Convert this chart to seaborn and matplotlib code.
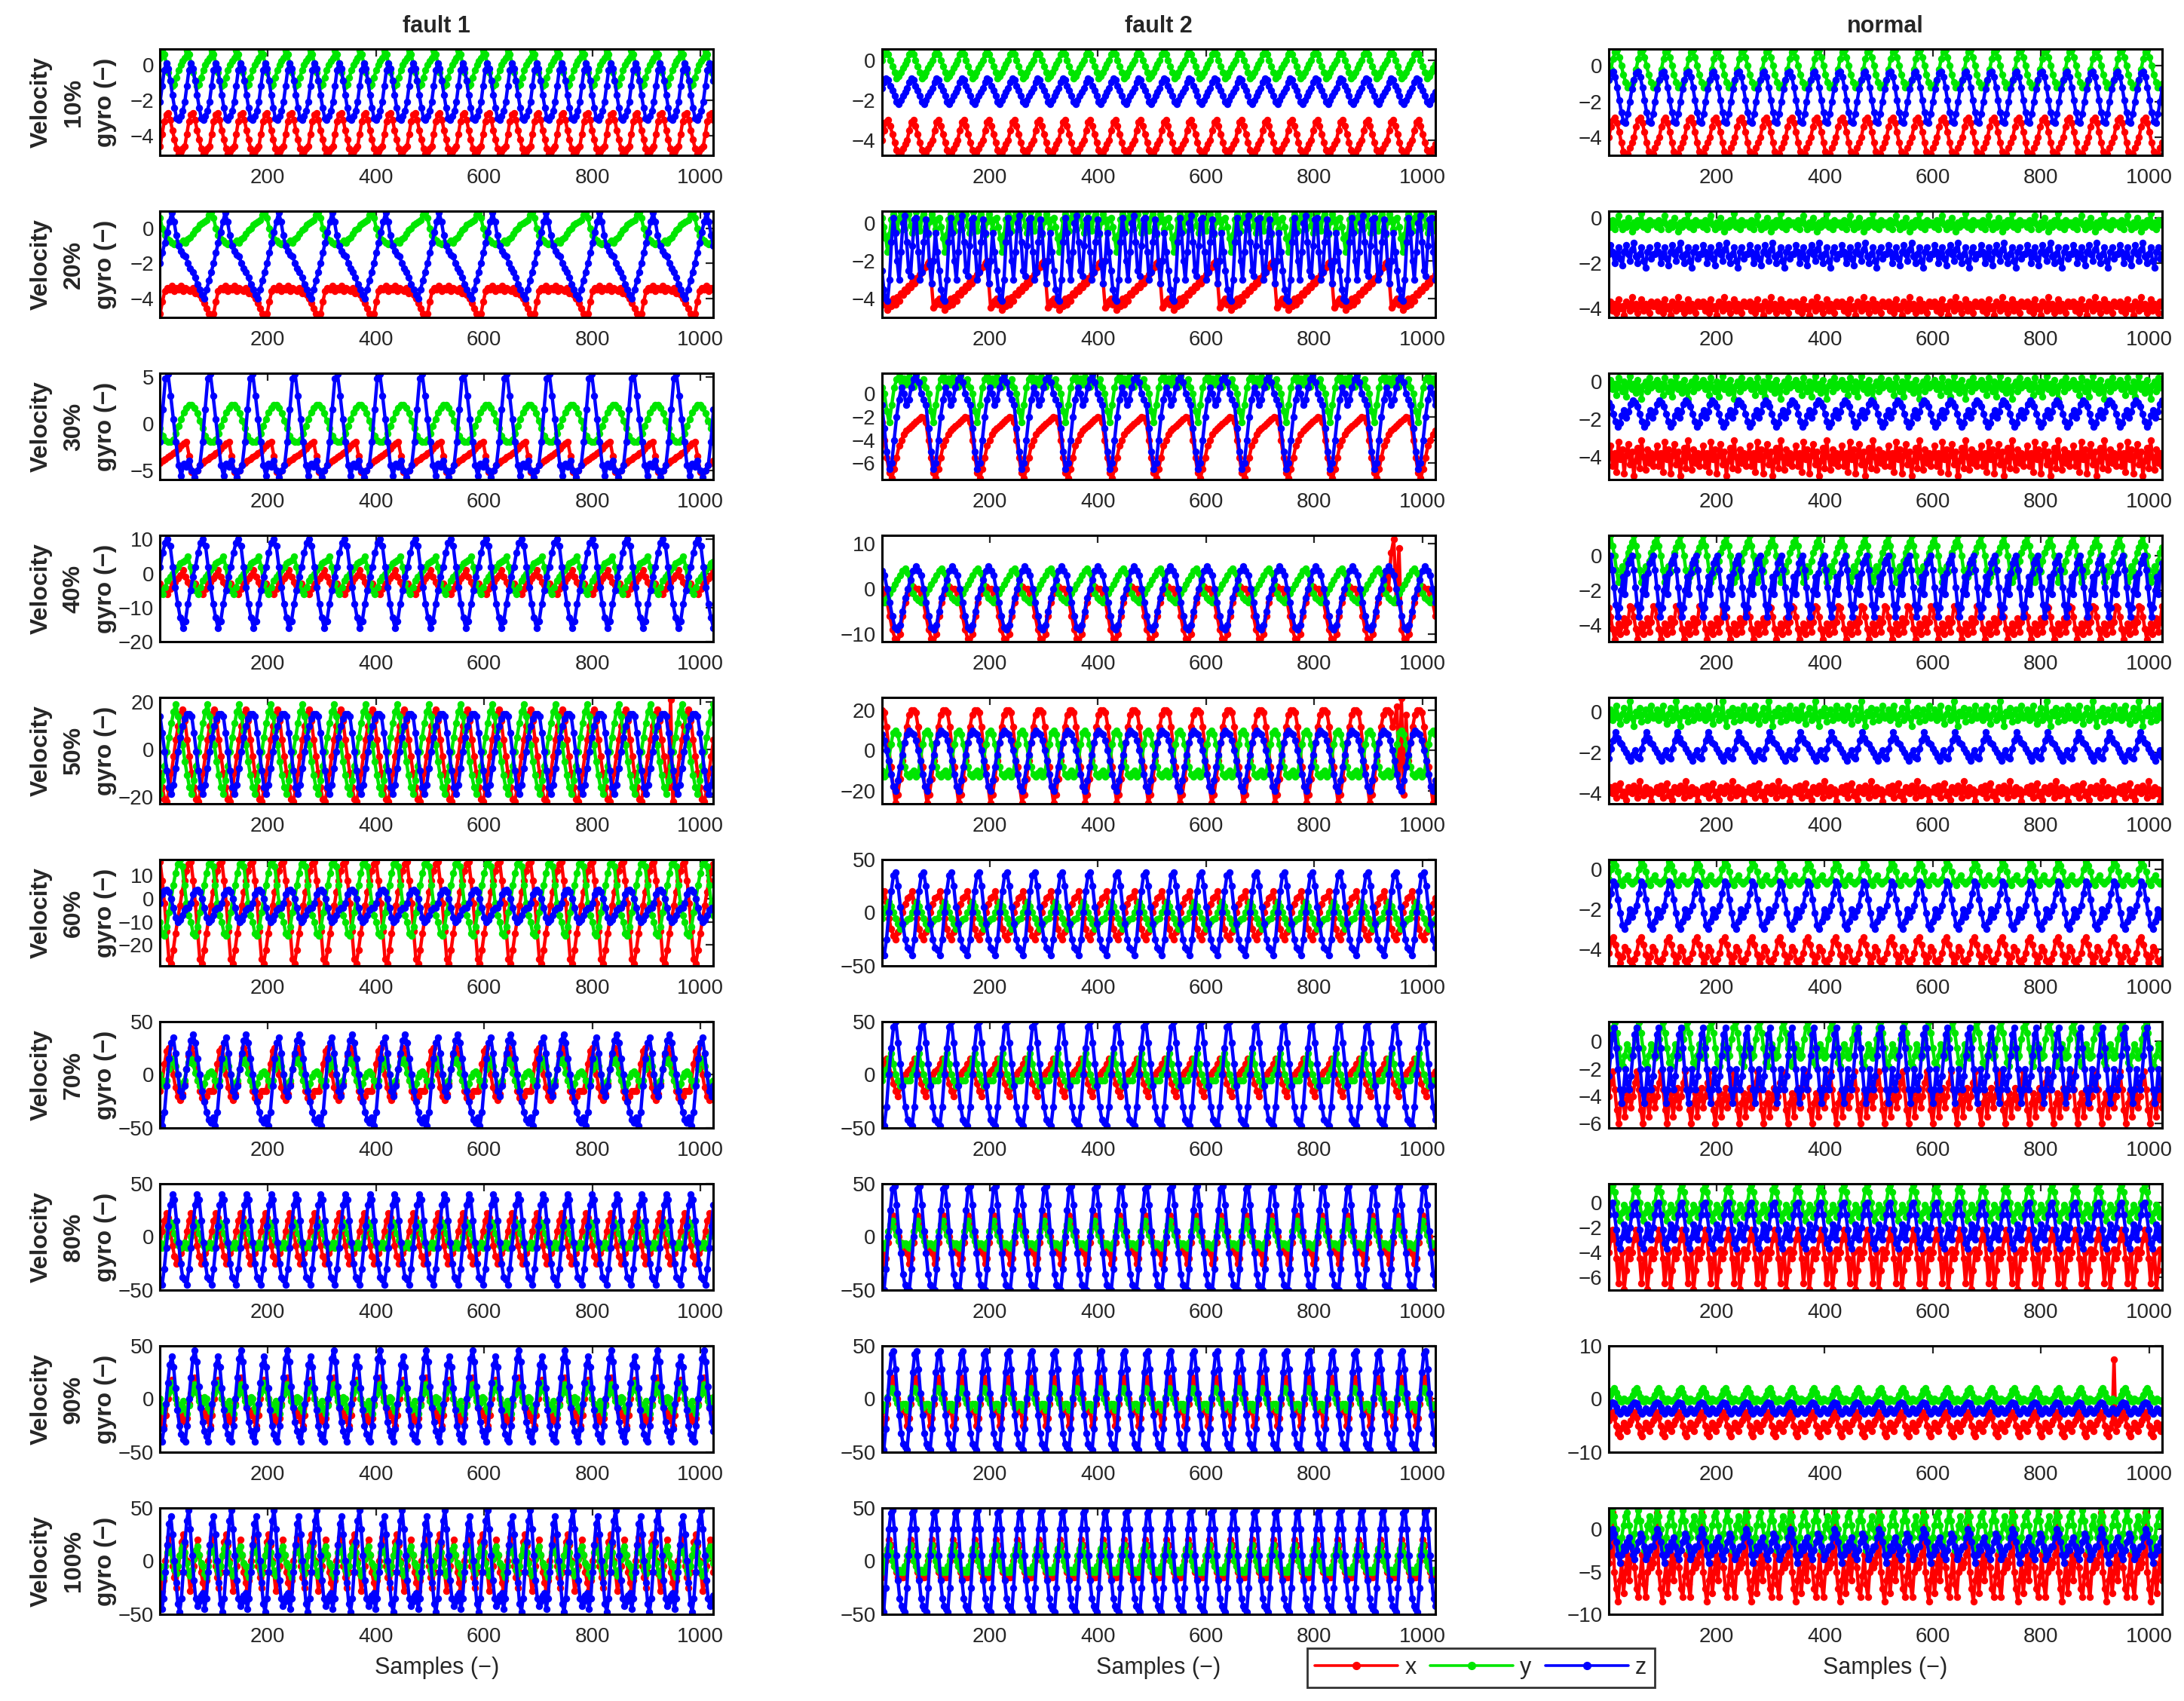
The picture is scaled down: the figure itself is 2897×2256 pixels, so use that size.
import numpy as np
import pandas as pd
import matplotlib
matplotlib.use("Agg")
import matplotlib.pyplot as plt
import seaborn as sns
from matplotlib.lines import Line2D

# ---------------------------------------------------------------
# Data: one (or two) cycle(s) of each signal,
# read by eye, and how many times that read cycle repeats over 1..1024.
# ---------------------------------------------------------------
COLUMN_TITLES = ["fault 1", "fault 2", "normal"]
VELOCITIES = ["10%", "20%", "30%", "40%", "50%", "60%", "70%", "80%", "90%", "100%"]
AXIS_NAMES = ["x", "y", "z"]
X_TICKS = [200, 400, 600, 800, 1000]

# ---- fault 1 ----
F1_10_X = [-4.6, -3.9, -3.2, -2.8, -2.7, -3.1, -3.7, -4.2, -4.7, -5.0, -4.9, -4.7]
F1_10_Y = [0.4, 0.8, 0.6, 0.1, -0.4, -0.9, -1.2, -1.1, -0.7, -0.3, 0.0, 0.2]
F1_10_Z = [-2.1, -1.2, -0.3, 0.1, -0.2, -0.9, -1.7, -2.4, -3.0, -3.1, -2.9, -2.6]
F1_20_X = [-4.9, -4.2, -3.6, -3.4, -3.5, -3.3, -3.6, -3.4, -3.5, -3.3, -3.6, -3.4,
           -3.5, -3.6, -3.4, -3.7, -3.5, -3.8, -4.0, -4.3, -4.6, -4.9, -5.0]
F1_20_Y = [0.6, 0.0, -0.4, -0.6, -0.7, -0.8, -0.9, -0.8, -0.9, -0.8, -0.7, -0.8,
           -0.6, -0.5, -0.3, -0.1, 0.0, 0.2, 0.3, 0.4, 0.5, 0.8, 0.9]
F1_20_Z = [-2.0, -1.4, -0.8, -0.2, 0.4, 0.9, 0.4, -0.4, -1.0, -1.3, -1.5, -1.6,
           -2.0, -2.3, -2.5, -2.8, -3.2, -3.5, -3.8, -4.0, -3.5, -3.0, -2.5]
F1_30_X = [-4.2, -4.0, -3.8, -3.6, -3.4, -3.2, -3.0, -2.7, -2.4, -2.1, -2.0, -3.5, -5.2, -6.0, -5.0, -4.5]
F1_30_Y = [-0.5, -1.3, -1.8, -2.0, -2.0, -1.7, -1.1, -0.3, 0.5, 1.2, 1.7, 2.0, 2.0, 1.7, 1.1, 0.3]
F1_30_Z = [-2.0, 1.5, 4.8, 5.3, 3.0, 0.5, -2.0, -4.5, -5.6, -4.3, -4.6, -4.0, -5.0, -5.8, -5.0, -4.5]
F1_40_X = [-3.0, -4.5, -5.5, -6.0, -4.5, -3.0, -2.5, -1.5, -0.5, 1.0, -1.0, -2.5, -3.5, -4.0]
F1_40_Y = [-5.0, -6.0, -4.0, -2.0, -1.0, 0.0, 1.0, 2.0, 3.0, 3.5, 4.0, 5.0, 2.0, -3.0]
F1_40_Z = [2, 6, 9, 10, 8, 2, -4, -9, -13, -16, -14, -9, -5, -1]
F1_50_X = [-10, -16, -21, -22, -17, -10, -3, 4, 10, 15, 17, 12, 4, -3]
F1_50_Y = [-19, -13, -7, -1, 5, 11, 16, 19, 14, 8, 2, -5, -11, -16]
F1_50_Z = [14, 7, -1, -9, -16, -19, -15, -8, -1, 5, 10, 13, 15, 15]
F1_60_X = [16, 8, -2, -14, -26, -28, -22, -15, -9, -3, 3, 8, 12, 15]
F1_60_Y = [-10, -15, -16, -12, -6, 0, 6, 11, 15, 17, 14, 6, -2, -7]
F1_60_Z = [-2, 2, 3.5, 4, 3, 0, -4, -8, -10, -9, -7, -5, -4, -4]
F1_70_X = [-15, -5, 10, 22, 25, 15, 0, -12, -20, -24, -18, -8, 5, 18, 25, 20, 8, -5,
           -15, -22, -25, -20, -15, -15]
F1_70_Y = [0, -5, -10, -5, 5, 12, 15, 8, 0, -8, -12, -5, 5, 12, 15, 10, 2, -5, -10, -12, -8, -2, 2, 3]
F1_70_Z = [-40, -48, -35, -10, 15, 30, 35, 20, 0, -15, -20, -10, 5, 20, 32, 38, 30, 15,
           0, -15, -25, -35, -42, -45]
F1_80_X = [-5, 5, 15, 22, 18, 5, -8, -18, -25, -22, -15, -10]
F1_80_Y = [-5, -10, -8, 0, 8, 14, 10, 3, -3, -8, -10, -8]
F1_80_Z = [-40, -45, -30, -10, 10, 30, 40, 35, 15, -5, -25, -38]
F1_90_X = [-10, -20, -25, -15, 0, 12, 18, 10, 0, -5, -15, -20, -15, -22, -18, -5, 5, 15,
           20, 12, 2, -8, -12, -15]
F1_90_Y = [0, -8, -12, -5, 5, 12, 15, 8, 0, -5, -10, -6, -2, -10, -14, -6, 4, 10, 14, 6, -2, -6, -4, 2]
F1_90_Z = [-35, -40, -28, -5, 15, 32, 40, 30, 10, -10, -25, -33, -38, -40, -25, 0, 20, 38,
           46, 35, 12, -8, -22, -30]
F1_100_X = [-20, -28, -18, 0, 15, 22, 12, -5, -15, -25, -10, 5, 18, 25, 15, 0, -12, -28,
            -20, -5, 10, 20, 5, -10]
F1_100_Y = [-5, -12, -15, -5, 8, 14, 10, 0, -8, -12, -5, 5, 12, 15, 8, -2, -10, -14, -8, 2, 10, 14, 6, -2]
F1_100_Z = [-30, -45, -35, -10, 15, 35, 42, 25, 0, -20, -40, -48, -35, -10, 18, 38, 48, 30,
            5, -18, -35, -42, -38, -32]

# ---- fault 2 ----
F2_10_X = [-4.0, -3.5, -3.1, -3.0, -3.3, -3.7, -4.1, -4.5, -4.7, -4.6, -4.4, -4.2]
F2_10_Y = [0.0, 0.3, 0.5, 0.3, 0.0, -0.3, -0.6, -0.9, -0.8, -0.6, -0.4, -0.2]
F2_10_Z = [-1.4, -1.1, -0.9, -1.0, -1.3, -1.5, -1.8, -2.1, -2.2, -2.0, -1.8, -1.6]
F2_20_X = [-4.0, -4.3, -4.1, -4.6, -4.2, -4.4, -4.0, -4.3, -3.9, -4.1, -3.7, -3.8, -3.5, -3.6, -3.3,
           -3.4, -3.1, -3.2, -2.9, -3.0, -2.7, -2.6, -2.4, -2.3, -2.1, -2.0, -3.2, -4.5, -4.3, -4.1]
F2_20_Y = [0.3, -0.2, -0.8, -1.5, -0.6, 0.2, 0.5, 0.0, -0.4, 0.3, 0.6, 0.1, -0.3, 0.4, 0.5,
           -0.1, -0.5, 0.2, 0.6, 0.0, -0.4, 0.3, 0.5, -0.2, -0.6, 0.1, 0.5, 0.2, -0.3, 0.2]
F2_20_Z = [-2.5, -3.5, -4.0, -4.1, -3.0, -1.0, 0.3, -0.5, -2.0, -3.0, -1.5, 0.0, 0.4, -1.0, -2.5,
           -2.8, -1.2, 0.2, 0.3, -1.5, -3.0, -2.6, -1.0, 0.2, -0.5, -2.2, -3.2, -2.0, -0.5, -1.5]
F2_30_X = [-2.5, -4.0, -5.5, -6.8, -7.3, -6.5, -5.5, -4.5, -4.0, -3.5, -3.2, -3.0, -2.8, -2.6, -2.4, -2.2, -2.0, -2.1]
F2_30_Y = [0.5, 0.0, -1.5, -2.5, -1.0, 0.5, 1.2, 1.5, 1.0, 1.3, 0.8, 1.4, 1.0, 0.6, 1.5, 1.0, 0.8, 1.2]
F2_30_Z = [-1.0, -3.0, -5.0, -6.5, -6.0, -4.0, -2.0, -0.5, 0.5, 0.0, -1.0, -0.5, 0.5, 1.2, 1.7, 1.0, 0.0, -0.5]
F2_40_X = [0, -1, -3, -6, -9, -11, -12, -10, -6, -3, -1, 0, 0.5, 0]
F2_40_Y = [-2.5, -3, -2, -1, 0, 1, 2, 3, 4, 4.5, 3.5, 1, -1, -2]
F2_40_Z = [4, 3, 0, -3, -6, -8.5, -9, -8, -5, -2, 0, 2, 4, 5]
F2_50_X = [20, 19, 12, 2, -8, -18, -26, -22, -14, -5, 4, 12, 18, 20]
F2_50_Y = [-10, -13, -12, -5, 3, 9, 10, 8, 3, -3, -8, -12, -13, -11]
F2_50_Z = [8, 5, 0, -5, -12, -18, -20, -15, -8, -2, 4, 8, 10, 9]
F2_60_X = [15, 20, 10, -5, -15, -22, -25, -18, -8, 0, 8, 14]
F2_60_Y = [-5, 0, 5, 10, 6, 0, -5, -10, -15, -12, -8, -6]
F2_60_Z = [-35, -40, -25, 0, 20, 35, 38, 25, 5, -10, -25, -33]
F2_70_X = [5, 10, 15, 10, 0, -8, -15, -20, -12, -5, 0, 3]
F2_70_Y = [-5, 0, 5, 15, 20, 10, 0, -5, -10, -8, -5, -5]
F2_70_Z = [-45, -48, -30, 0, 25, 45, 50, 30, 10, -10, -30, -42]
F2_80_X = [-15, -25, -20, -5, 10, 20, 15, 5, 0, -5, -10, -12]
F2_80_Y = [-8, -10, -5, 5, 12, 15, 8, 2, -4, -8, -6, -6]
F2_80_Z = [-48, -50, -30, 0, 25, 45, 48, 30, 5, -15, -35, -45]
F2_90_X = [-12, -25, -18, -5, 8, 20, 15, 5, 0, -5, -10, -12]
F2_90_Y = [-5, -10, -6, 2, 8, 10, 6, 0, -4, -8, -6, -5]
F2_90_Z = [-45, -48, -28, 0, 25, 42, 45, 28, 5, -15, -32, -42]
F2_100_X = [-15, -10, 0, 10, 20, 15, 5, -5, -10, -15, -12, -15]
F2_100_Y = [-10, -5, 5, 12, 15, 8, 0, -5, -8, -10, -8, -10]
F2_100_Z = [-45, -48, -25, 5, 30, 45, 48, 30, 5, -18, -35, -42]

# ---- normal ----
N_10_X = [-4.0, -3.4, -3.0, -2.9, -3.2, -3.7, -4.3, -4.8, -5.0, -4.9, -4.6, -4.3]
N_10_Y = [-0.8, -0.2, 0.4, 0.8, 0.9, 0.5, 0.0, -0.5, -0.9, -1.2, -1.1, -1.0]
N_10_Z = [-0.8, -0.4, -0.3, -0.6, -1.2, -1.9, -2.6, -3.1, -3.2, -2.7, -2.0, -1.3]
N_20_X = [-3.9, -3.7, -4.1, -3.8, -4.2, -3.6, -4.0, -3.9, -4.3, -3.7, -3.9, -4.1,
          -3.5, -4.0, -3.8, -4.2, -3.9, -3.6, -4.1, -3.8, -4.0, -4.2, -3.7, -3.9]
N_20_Y = [-0.2, -0.4, -0.1, -0.5, -0.2, 0.1, -0.3, -0.5, -0.2, -0.4, 0.0, -0.3,
          -0.6, -0.2, -0.4, -0.1, -0.3, 0.2, -0.4, -0.2, -0.5, -0.1, -0.3, -0.2]
N_20_Z = [-1.6, -1.2, -1.5, -2.0, -1.7, -1.3, -1.8, -2.1, -1.5, -1.2, -1.6, -1.9,
          -1.4, -1.1, -1.7, -2.0, -1.6, -1.3, -1.9, -2.2, -1.5, -1.3, -1.8, -1.6]
N_30_X = [-4.0, -3.4, -4.5, -3.8, -4.8, -3.2, -4.1, -3.6, -4.9, -3.9, -3.3, -4.4,
          -3.7, -5.0, -4.2, -3.5, -4.6, -3.1, -4.0, -4.7, -3.6, -4.3, -3.8, -4.5]
N_30_Y = [-0.2, 0.1, -0.4, -0.1, -0.7, 0.2, -0.3, -0.5, 0.0, -0.8, -0.2, 0.3,
          -0.4, -0.1, -0.6, 0.1, -0.3, -0.9, -0.2, 0.0, -0.5, 0.2, -0.3, -0.1]
N_30_Z = [-1.1, -1.3, -1.7, -2.1, -2.4, -2.2, -1.8, -1.5, -1.9, -1.6, -1.2, -1.0]
N_40_X = [-3.0, -3.5, -4.2, -4.8, -4.3, -3.9, -4.5, -4.0, -3.6, -4.4, -3.8, -2.9]
N_40_Y = [0.8, 1.2, 0.6, 0.0, -0.8, -1.5, -1.2, -0.6, -0.9, -0.3, 0.2, 0.5]
N_40_Z = [-0.2, 0.0, -0.8, -1.8, -2.8, -3.5, -3.0, -2.0, -1.2, -2.2, -1.0, -0.4]
N_50_X = [-3.9, -3.7, -4.0, -3.6, -4.2, -3.8, -3.5, -4.1, -3.9, -4.3, -3.7, -3.9,
          -4.0, -3.6, -3.8, -4.2, -3.4, -3.9, -4.1, -3.7, -4.0, -3.8, -4.4, -3.9]
N_50_Y = [-0.2, 0.1, -0.4, -0.1, 0.3, -0.3, -0.6, -0.1, 0.2, -0.4, -0.2, 0.5,
          -0.3, -0.7, 0.0, -0.2, 0.2, -0.5, -0.1, 0.1, -0.4, -0.2, 0.3, -0.3]
N_50_Z = [-2.3, -1.8, -1.4, -1.0, -1.3, -1.5, -1.6, -1.8, -2.0, -2.2, -2.4, -2.1, -1.9, -2.2]
N_60_X = [-4.2, -3.6, -3.4, -3.8, -4.3, -4.7, -4.4, -3.9, -4.1, -4.6, -4.8, -4.5]
N_60_Y = [-0.5, 0.0, 0.4, 0.2, -0.1, -0.6, -0.8, -0.5, -0.3, -0.6, -0.7, -0.6]
N_60_Z = [-1.8, -1.2, -0.6, -0.8, -1.5, -2.2, -2.8, -3.0, -2.6, -2.0, -2.4, -2.1]
N_70_X = [-4.0, -3.0, -2.2, -3.5, -5.0, -6.0, -4.5, -3.8, -5.5, -4.2, -3.4, -4.8]
N_70_Y = [-1.0, 0.2, 1.0, 1.4, 0.6, -0.5, -1.5, -1.8, -1.0, -0.2, -0.6, -1.2]
N_70_Z = [-2.5, -1.0, 0.5, 1.0, -0.5, -2.0, -3.5, -4.5, -3.5, -2.0, -3.0, -3.5]
N_80_X = [-4.0, -3.0, -2.2, -2.8, -4.5, -6.5, -5.0, -4.0, -7.0, -5.5, -3.8, -4.5]
N_80_Y = [0.0, 1.0, 1.4, 0.8, 0.0, -1.0, -1.5, -0.8, -0.2, -0.5, -1.2, -0.6]
N_80_Z = [-1.0, -0.2, 0.0, -1.0, -2.2, -3.3, -3.7, -2.8, -1.8, -2.4, -3.0, -2.0]
N_90_X = [-4.0, -3.0, -2.5, -3.5, -5.0, -6.5, -7.0, -5.5, -4.5, -5.5, -6.0, -4.8]
N_90_Y = [0.0, 0.8, 1.6, 2.0, 1.2, 0.3, -0.3, -0.5, 0.0, -0.2, -0.4, -0.2]
N_90_Z = [-1.5, -1.0, -0.6, -0.8, -1.5, -2.3, -2.8, -2.4, -1.8, -2.2, -2.6, -2.0]
N_100_X = [-4, -3, 2, -5, -7, -8.5, -6, -4, -7.5, -5, -3, -6,
           -3.5, -2.5, -4.5, -7, -8, -5.5, -3, -6.5, -8, -5, -3.5, -4.5]
N_100_Y = [-1, 1, 2.5, 1.5, 0, -1.5, -3, -1, 0.5, 1.5, 2, 0.5,
           -1, -2, -0.5, 1, 2.2, 1, -0.5, -2.5, -1, 0.5, 1.5, 0]
N_100_Z = [-2, -1, 0, -0.5, -1.5, -3, -4, -3, -2, -2.5, -1.5, -1,
           -2, -3, -3.5, -2.5, -1.5, -0.5, -1, -2, -3.5, -3, -2.5, -2]

# repetitions of each read cycle over the 1024 samples (x, y, z)
F1_CYCLES = [(22.5, 22.5, 22.5), (10.4, 10.4, 10.4), (13.1, 13.1, 13.1), (15.7, 15.7, 15.7),
             (17.6, 17.6, 17.6), (18, 18, 18), (10.5, 10.5, 10.5), (22.5, 22.5, 22.5),
             (12, 12, 12), (13, 13, 13)]
F2_CYCLES = [(22, 22, 22), (9.7, 9.7, 9.7), (12.6, 12.6, 12.6), (15.3, 15.3, 15.3),
             (17.6, 17.6, 17.6), (20, 20, 20), (20, 20, 20), (22, 22, 22),
             (24, 24, 24), (26, 26, 26)]
N_CYCLES = [(22, 22, 22), (12, 12, 12), (12, 12, 21), (24, 24, 26), (12, 12, 18),
            (20, 20, 20), (23, 23, 25), (24, 24, 24), (25, 25, 25), (12.5, 12.5, 12.5)]

# isolated spikes: (column, row, axis, sample, value)
SPIKES = [(0, 4, "x", 945, 21),
          (1, 3, "x", 935, 3), (1, 3, "x", 942, 8), (1, 3, "x", 948, 11), (1, 3, "x", 955, 9),
          (1, 4, "x", 948, 15), (1, 4, "x", 955, 22), (1, 4, "x", 962, 26), (1, 4, "x", 969, 18),
          (2, 8, "x", 935, 7.5)]

F1_YLIM = [(-5.1, 0.9), (-5.1, 1.0), (-6.0, 5.4), (-20, 11.2), (-23, 22), (-29, 17),
           (-50, 50), (-50, 50), (-50, 50), (-50, 50)]
F2_YLIM = [(-4.75, 0.55), (-5.0, 0.65), (-7.4, 1.75), (-11.7, 11.9), (-26.5, 26.5),
           (-50, 50), (-50, 50), (-50, 50), (-50, 50), (-50, 50)]
N_YLIM = [(-5.0, 0.95), (-4.4, 0.3), (-5.2, 0.45), (-4.95, 1.2), (-4.5, 0.7), (-4.85, 0.5),
          (-6.3, 1.45), (-7.05, 1.5), (-10, 10), (-10, 2.5)]
F1_YTICKS = [[-4, -2, 0], [-4, -2, 0], [-5, 0, 5], [-20, -10, 0, 10], [-20, 0, 20],
             [-20, -10, 0, 10], [-50, 0, 50], [-50, 0, 50], [-50, 0, 50], [-50, 0, 50]]
F2_YTICKS = [[-4, -2, 0], [-4, -2, 0], [-6, -4, -2, 0], [-10, 0, 10], [-20, 0, 20],
             [-50, 0, 50], [-50, 0, 50], [-50, 0, 50], [-50, 0, 50], [-50, 0, 50]]
N_YTICKS = [[-4, -2, 0], [-4, -2, 0], [-4, -2, 0], [-4, -2, 0], [-4, -2, 0], [-4, -2, 0],
            [-6, -4, -2, 0], [-6, -4, -2, 0], [-10, 0, 10], [-10, -5, 0]]

# ---------------------------------------------------------------
g = globals()
PREFIXES = ["F1", "F2", "N"]
VEL_KEYS = ["10", "20", "30", "40", "50", "60", "70", "80", "90", "100"]
CYCLES = [F1_CYCLES, F2_CYCLES, N_CYCLES]
YLIMS = [F1_YLIM, F2_YLIM, N_YLIM]
YTICKS = [F1_YTICKS, F2_YTICKS, N_YTICKS]
COLORS = {"x": "#ff0000", "y": "#00e600", "z": "#0000ff"}


def build_series(template, cycles):
    t = np.asarray(template, dtype=float)
    n = int(round(cycles * len(t)))
    vals = np.resize(t, n)
    samples = np.linspace(1, 1024, n)
    return samples, vals


sns.set_style("white")
plt.rcParams["font.family"] = ["Liberation Sans Narrow", "Liberation Sans", "DejaVu Sans"]
plt.rcParams["axes.unicode_minus"] = True

W, H, DPI = 2897, 2256, 200
fig = plt.figure(figsize=(W / DPI, H / DPI), dpi=DPI)

LEFTS = [0.0733, 0.4038, 0.7366]
AX_W = 0.2534
TOP0 = 0.9712
AX_H = 0.0625
STEP = 0.0953
TICK_COLOR = "#262626"

for c in range(3):
    for r in range(10):
        ax = fig.add_axes([LEFTS[c], TOP0 - AX_H - r * STEP, AX_W, AX_H])
        frames = []
        for k, name in enumerate(AXIS_NAMES):
            tpl = g[f"{PREFIXES[c]}_{VEL_KEYS[r]}_{name.upper()}"]
            s, v = build_series(tpl, CYCLES[c][r][k])
            for (sc, sr, sa, ss, sv) in SPIKES:
                if sc == c and sr == r and sa == name:
                    v[int(np.argmin(np.abs(s - ss)))] = sv
            frames.append(pd.DataFrame({"sample": s, "value": v, "axis": name}))
        df = pd.concat(frames, ignore_index=True)
        sns.lineplot(data=df, x="sample", y="value", hue="axis", hue_order=AXIS_NAMES,
                     palette=COLORS, estimator=None, sort=False, legend=False, ax=ax,
                     linewidth=1.6, marker="o", markersize=3.4, markeredgewidth=0)
        ax.set_xlim(1, 1024)
        ax.set_ylim(*YLIMS[c][r])
        ax.set_xticks(X_TICKS)
        ax.set_yticks(YTICKS[c][r])
        ax.set_xlabel("")
        ax.set_ylabel("")
        ax.tick_params(axis="both", direction="in", top=True, right=True, length=3.5,
                       width=0.8, labelsize=10, labelcolor=TICK_COLOR, color=TICK_COLOR)
        ax.tick_params(axis="x", pad=6)
        ax.tick_params(axis="y", pad=3)
        for sp in ax.spines.values():
            sp.set_color("black")
            sp.set_linewidth(1.1)
        if r == 0:
            ax.set_title(COLUMN_TITLES[c], fontsize=11, fontweight="bold", pad=8)
        if c == 0:
            ax.text(-0.156, 0.5, f"Velocity\n{VELOCITIES[r]}\ngyro (\u2212)",
                    transform=ax.transAxes, rotation=90, ha="center", va="center",
                    multialignment="center", fontsize=11.5, fontweight="bold",
                    linespacing=1.55)
        if r == 9:
            ax.set_xlabel("Samples (\u2212)", fontsize=11, labelpad=5, color=TICK_COLOR)

handles = [Line2D([], [], color=COLORS[n], marker="o", markersize=3, lw=1.3) for n in AXIS_NAMES]
leg = fig.legend(handles, AXIS_NAMES, loc="center", bbox_to_anchor=(0.678, 0.0195), ncol=3,
                 frameon=True, fancybox=False, edgecolor="black", handlelength=3.6,
                 columnspacing=0.6, handletextpad=0.3, fontsize=11, borderpad=0.35)
leg.get_frame().set_linewidth(1.0)

fig.savefig("out.png", dpi=DPI)
